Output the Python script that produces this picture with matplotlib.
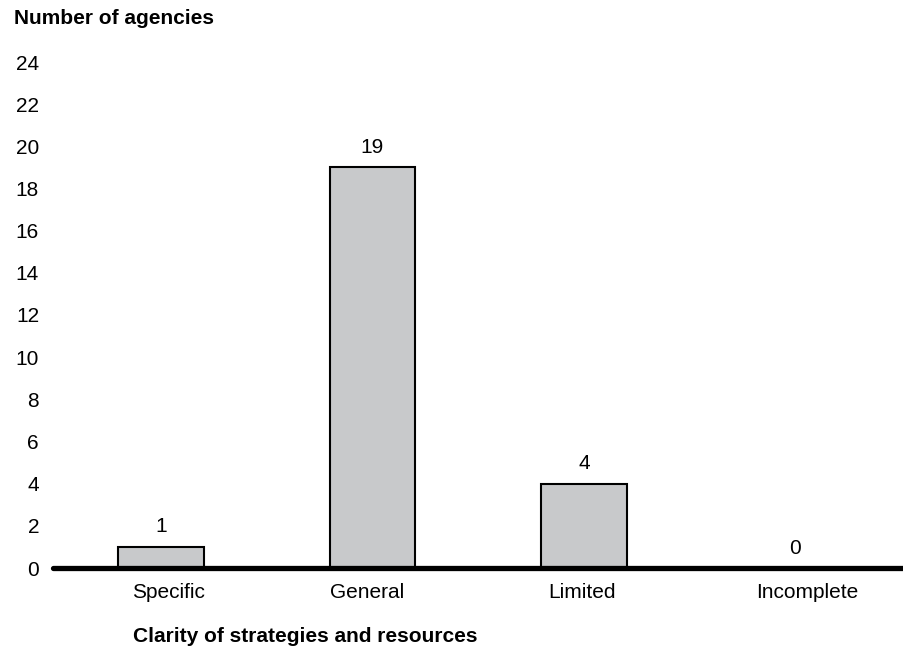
import matplotlib.pyplot as plt
import matplotlib.transforms as mtransforms
import numpy as np

plt.rcParams['font.family'] = ['Liberation Sans', 'DejaVu Sans']

categories = ['Specific', 'General', 'Limited', 'Incomplete']
agencies = [1, 19, 4, 0]
yticks = list(range(0, 25, 2))

fig = plt.figure(figsize=(9.04, 6.51), dpi=100)
ax = fig.add_axes([53 / 904, 83 / 651, 851 / 904, 506 / 651])

x = np.arange(len(categories))
bars = ax.bar(x, agencies, width=0.405, color='#c8c9cb', edgecolor='black', linewidth=1.5, zorder=2)

# value labels over each bar
for xi, v in zip(x, agencies):
    ax.annotate(str(v), (xi, v), xytext=(0, 7.5), textcoords='offset points',
                ha='center', va='bottom', fontsize=15)

# heavy baseline with a rounded left end
ax.plot([-0.51, 3.52], [0, 0], color='black', lw=3.8, solid_capstyle='round',
        clip_on=False, zorder=3)

ax.set_xlim(-0.51, 3.513)
ax.set_ylim(0, 24)
ax.set_yticks(yticks)
ax.set_xticks(x)
ax.set_xticklabels(categories)
ax.tick_params(axis='both', length=0, labelsize=15)
ax.tick_params(axis='y', pad=10)
ax.tick_params(axis='x', pad=10.5)
for s in ax.spines.values():
    s.set_visible(False)

# nudge category labels a little sideways (pixels)
nudges = [8, -5, -2, 12]
for lab, dx in zip(ax.get_xticklabels(), nudges):
    lab.set_transform(lab.get_transform() + mtransforms.Affine2D().translate(dx, 0))

fig.text(14 / 904, 1 - 19 / 651, 'Number of agencies', fontsize=15, fontweight='bold',
         ha='left', va='center')
fig.text(133 / 904, 1 - 637 / 651, 'Clarity of strategies and resources', fontsize=15,
         fontweight='bold', ha='left', va='center')

fig.savefig('out.png', dpi=100)
